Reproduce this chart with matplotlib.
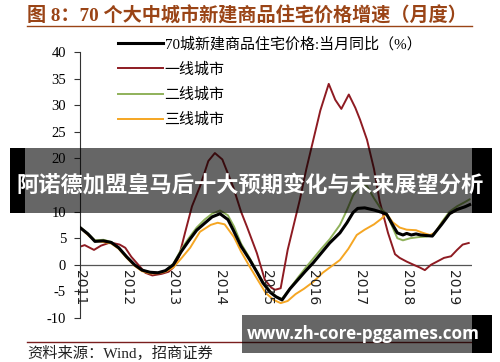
import matplotlib
matplotlib.use("Agg")
import matplotlib.pyplot as plt
from matplotlib.patches import Rectangle

plt.rcParams['font.family'] = ['Liberation Serif', 'Noto Sans CJK SC', 'DejaVu Sans']

title = "图 8：70 个大中城市新建商品住宅价格增速（月度）"
source = "资料来源：Wind，招商证券"
labels = ["70城新建商品住宅价格:当月同比（%）", "一线城市", "二线城市", "三线城市"]
colors = ["#000000", "#8E1B22", "#8FB15A", "#F5A623"]
years = [2011, 2012, 2013, 2014, 2015, 2016, 2017, 2018, 2019]
yticks = [-10, -5, 0, 5, 10, 15, 20, 25, 30, 35, 40]

# 70 cities (black)
t_all = [2011.0, 2011.17, 2011.32, 2011.5, 2011.67, 2011.83, 2012.0, 2012.17, 2012.33, 2012.5,
         2012.67, 2012.83, 2013.0, 2013.17, 2013.33, 2013.5, 2013.67, 2013.83, 2014.0, 2014.17,
         2014.28, 2014.45, 2014.64, 2014.8, 2014.92, 2015.08, 2015.2, 2015.33, 2015.5, 2015.67,
         2015.83, 2016.0, 2016.17, 2016.35, 2016.57, 2016.72, 2016.85, 2016.95, 2017.1, 2017.3,
         2017.45, 2017.57, 2017.7, 2017.8, 2017.92, 2018.0, 2018.1, 2018.2, 2018.3, 2018.42,
         2018.55, 2018.75, 2018.92, 2019.08, 2019.25, 2019.35]
v_all = [7.0, 5.8, 4.4, 4.5, 4.2, 3.2, 1.5, 0.0, -1.0, -1.4,
         -1.5, -1.1, 0.0, 2.5, 4.5, 6.5, 7.8, 9.0, 9.6, 8.5,
         6.6, 3.5, 0.9, -1.5, -3.4, -5.2, -6.0, -6.6, -4.5, -2.8,
         -1.2, 0.4, 2.2, 4.1, 6.0, 7.9, 9.8, 10.6, 10.7, 10.3,
         9.9, 9.5, 7.5, 6.0, 5.6, 5.9, 5.6, 5.8, 5.6, 5.5,
         5.4, 7.6, 9.6, 10.4, 10.9, 11.3]

# tier 1 (red)
t_t1 = [2011.0, 2011.1, 2011.3, 2011.45, 2011.65, 2011.85, 2011.97, 2012.1, 2012.25, 2012.4,
        2012.55, 2012.75, 2012.9, 2013.0, 2013.12, 2013.25, 2013.4, 2013.57, 2013.75, 2013.89,
        2014.05, 2014.28, 2014.45, 2014.58, 2014.79, 2014.96, 2015.1, 2015.18, 2015.3, 2015.45,
        2015.58, 2015.71, 2015.85, 2016.0, 2016.15, 2016.33, 2016.47, 2016.6, 2016.76, 2016.9,
        2017.0, 2017.15, 2017.3, 2017.42, 2017.6, 2017.75, 2017.85, 2018.0, 2018.15, 2018.28,
        2018.39, 2018.52, 2018.65, 2018.8, 2018.95, 2019.08, 2019.2, 2019.33]
v_t1 = [3.4, 3.7, 2.8, 3.6, 4.2, 3.8, 3.2, 1.5, 0.0, -1.5,
        -2.0, -1.7, -1.3, -0.5, 1.5, 6.0, 11.0, 14.7, 19.5, 21.0,
        19.8, 14.7, 10.0, 7.1, 2.2, -2.8, -4.3, -4.7, -4.4, 2.8,
        7.5, 12.2, 18.0, 23.5, 29.0, 34.0, 31.0, 29.3, 32.0, 29.5,
        27.3, 23.5, 18.0, 12.0, 6.0, 2.0, 1.3, 0.6, 0.0, -0.5,
        -1.0, 0.0, 0.6, 1.3, 1.6, 2.8, 3.8, 4.1]

# tier 2 (green)
t_t2 = [2011.0, 2011.17, 2011.32, 2011.5, 2011.67, 2011.83, 2012.0, 2012.17, 2012.33, 2012.5,
        2012.67, 2012.83, 2013.0, 2013.17, 2013.33, 2013.5, 2013.67, 2013.83, 2014.0, 2014.17,
        2014.3, 2014.45, 2014.64, 2014.8, 2014.92, 2015.08, 2015.2, 2015.33, 2015.5, 2015.67,
        2015.83, 2016.0, 2016.17, 2016.35, 2016.57, 2016.72, 2016.85, 2017.0, 2017.15, 2017.3,
        2017.45, 2017.57, 2017.7, 2017.8, 2017.92, 2018.08, 2018.25, 2018.42, 2018.58, 2018.75,
        2018.92, 2019.08, 2019.25, 2019.35]
v_t2 = [7.1, 5.9, 4.6, 4.7, 4.3, 3.2, 1.5, 0.0, -1.0, -1.4,
        -1.5, -1.1, 0.2, 2.9, 5.0, 7.0, 8.5, 9.6, 10.2, 9.3,
        7.2, 4.0, 1.2, -1.4, -3.2, -5.0, -6.0, -6.4, -4.4, -2.4,
        -0.6, 1.2, 3.0, 4.8, 7.5, 10.3, 13.0, 15.0, 14.8, 12.5,
        10.5, 9.6, 7.0, 5.0, 4.6, 5.0, 5.2, 5.3, 5.6, 8.0,
        10.0, 11.0, 11.8, 12.3]

# tier 3 (yellow)
t_t3 = [2011.0, 2011.17, 2011.32, 2011.5, 2011.67, 2011.83, 2012.0, 2012.17, 2012.33, 2012.5,
        2012.67, 2012.83, 2013.0, 2013.17, 2013.36, 2013.57, 2013.8, 2013.95, 2014.1, 2014.3,
        2014.45, 2014.64, 2014.82, 2014.98, 2015.15, 2015.3, 2015.45, 2015.62, 2015.8, 2016.0,
        2016.2, 2016.4, 2016.57, 2016.75, 2016.93, 2017.1, 2017.3, 2017.45, 2017.57, 2017.7,
        2017.85, 2018.0, 2018.2, 2018.35, 2018.5, 2018.6, 2018.77, 2018.92, 2019.08, 2019.2,
        2019.35]
v_t3 = [7.0, 5.6, 4.5, 4.3, 4.0, 3.0, 1.3, -0.2, -1.2, -1.6,
        -1.6, -1.3, -0.5, 1.2, 3.2, 6.2, 7.5, 7.9, 7.6, 5.2,
        2.5, -0.4, -3.0, -5.3, -6.6, -7.2, -6.8, -5.5, -4.5, -3.2,
        -1.5, -0.2, 0.9, 3.0, 5.6, 6.6, 7.6, 8.6, 9.6, 8.0,
        7.0, 6.6, 6.5, 6.0, 5.6, 6.0, 8.0, 9.6, 10.3, 10.8,
        11.3]

fig = plt.figure(figsize=(5.0, 3.62), dpi=100)
ax = fig.add_axes([0.16, 0.1215, 0.784, 0.735])

ax.plot(t_all, v_all, color=colors[0], lw=2.2, label=labels[0], zorder=3)
ax.plot(t_t1, v_t1, color=colors[1], lw=1.4, label=labels[1], zorder=2)
ax.plot(t_t2, v_t2, color=colors[2], lw=1.4, label=labels[2], zorder=2)
ax.plot(t_t3, v_t3, color=colors[3], lw=1.4, label=labels[3], zorder=2)
ax.axhline(0, color="#555555", lw=0.9, zorder=1)

ax.set_xlim(2011, 2019.4)
ax.set_ylim(-10, 40)
ax.set_yticks(yticks)
# 15 sits under the banner in the original
ax.set_yticklabels(["" if v == 15 else str(v) for v in yticks], fontsize=10.5,
                   family="Liberation Serif")
ax.set_xticks([])
for s in ["top", "right", "bottom"]:
    ax.spines[s].set_visible(False)
ax.spines["left"].set_color("#333333")
ax.tick_params(axis="y", direction="out", length=4, color="#333333", pad=6)

for y in years:
    ax.text(y, -0.9, str(y), rotation=270, ha="center", va="top", fontsize=10,
            family="DejaVu Sans", color="#222222")

leg = ax.legend(loc="upper left", bbox_to_anchor=(0.236, 0.898), bbox_transform=fig.transFigure,
                frameon=False, fontsize=10.8, handlelength=3.0, handletextpad=0.1,
                labelspacing=0.72, borderpad=0, borderaxespad=0)

# header / footer
fig.text(0.054, 0.955, title, fontsize=13.8, fontweight="bold", color="#9A4416",
         ha="left", va="center")
fig.add_artist(plt.Line2D([0.054, 0.944], [0.928, 0.928], color="#9A4416", lw=1.0))
fig.add_artist(plt.Line2D([0.054, 0.944], [0.055, 0.055], color="#7A1E1E", lw=1.0))
fig.text(0.054, 0.025, source, fontsize=11, ha="left", va="center", color="#222222")

# watermark banners
fig.add_artist(Rectangle((0.02, 0.412), 0.03, 0.18, transform=fig.transFigure,
                         facecolor="black", edgecolor="none", zorder=5))
fig.add_artist(Rectangle((0.944, 0.412), 0.04, 0.18, transform=fig.transFigure,
                         facecolor="black", edgecolor="none", zorder=5))
fig.add_artist(Rectangle((0.05, 0.412), 0.894, 0.18, transform=fig.transFigure,
                         facecolor="black", edgecolor="none", alpha=0.6, zorder=6))
fig.text(0.5, 0.488, "阿诺德加盟皇马后十大预期变化与未来展望分析", fontsize=16, fontweight="bold",
         color="white", ha="center", va="center", family=["Noto Sans CJK SC"], zorder=7)
fig.add_artist(Rectangle((0.944, 0.025), 0.04, 0.105, transform=fig.transFigure,
                         facecolor="black", edgecolor="none", zorder=5))
fig.add_artist(Rectangle((0.484, 0.025), 0.46, 0.105, transform=fig.transFigure,
                         facecolor="black", edgecolor="none", alpha=0.6, zorder=6))
fig.text(0.726, 0.077, "www.zh-core-pggames.com", fontsize=12.3, fontweight="bold",
         color="white", ha="center", va="center", family=["Open Sans", "DejaVu Sans"], zorder=7)

fig.savefig("out.png", dpi=100)
